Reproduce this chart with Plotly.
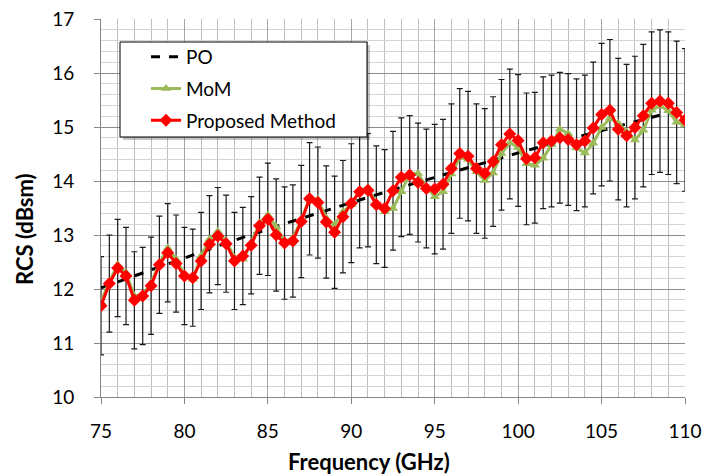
import plotly.graph_objects as go

freq = [75 + 0.5 * i for i in range(71)]

proposed = [11.69, 12.10, 12.39, 12.24, 11.79, 11.87, 12.06, 12.45, 12.67, 12.47,
            12.24, 12.21, 12.52, 12.83, 12.98, 12.84, 12.52, 12.61, 12.81, 13.17,
            13.29, 13.00, 12.85, 12.89, 13.25, 13.67, 13.60, 13.24, 13.05, 13.34,
            13.59, 13.80, 13.83, 13.56, 13.49, 13.82, 14.07, 14.11, 13.97, 13.86,
            13.85, 13.94, 14.23, 14.51, 14.46, 14.23, 14.14, 14.36, 14.67, 14.87,
            14.75, 14.41, 14.43, 14.71, 14.74, 14.80, 14.77, 14.67, 14.74, 14.98,
            15.23, 15.31, 14.96, 14.84, 14.99, 15.21, 15.44, 15.48, 15.44, 15.27,
            15.13]

mom = [11.76, 12.14, 12.45, 12.30, 11.87, 11.90, 12.11, 12.48, 12.76, 12.55,
       12.27, 12.18, 12.61, 12.92, 13.07, 12.89, 12.58, 12.55, 12.85, 13.22,
       13.37, 13.15, 12.88, 12.94, 13.28, 13.68, 13.66, 13.31, 13.19, 13.43,
       13.56, 13.83, 13.88, 13.59, 13.43, 13.49, 13.80, 14.14, 14.14, 13.89,
       13.71, 13.80, 14.13, 14.44, 14.40, 14.17, 14.01, 14.15, 14.51, 14.71,
       14.62, 14.32, 14.29, 14.42, 14.67, 14.96, 14.88, 14.61, 14.52, 14.70,
       14.99, 15.16, 15.07, 14.91, 14.76, 14.94, 15.31, 15.39, 15.30, 15.09,
       15.04]

err = [0.91, 0.90, 0.90, 0.90, 0.90, 0.90, 0.90, 0.90, 0.91, 0.90,
       0.90, 0.90, 0.90, 0.90, 0.90, 0.90, 0.90, 0.90, 0.90, 0.90,
       1.04, 1.04, 1.04, 1.04, 1.04, 1.04, 1.03, 1.04, 1.04, 1.04,
       1.10, 1.04, 1.05, 1.09, 1.09, 1.10, 1.10, 1.10, 1.10, 1.10,
       1.20, 1.20, 1.20, 1.20, 1.20, 1.20, 1.20, 1.20, 1.21, 1.20,
       1.22, 1.22, 1.21, 1.22, 1.22, 1.21, 1.22, 1.22, 1.22, 1.22,
       1.32, 1.31, 1.31, 1.32, 1.32, 1.32, 1.32, 1.32, 1.32, 1.32,
       1.32]

po_freq = [75, 77.5, 80, 82.5, 85, 87.5, 90, 92.5, 95, 97.5, 100, 102.5, 105, 107.5, 108.5]
po_vals = [12.02, 12.30, 12.58, 12.85, 13.11, 13.36, 13.60, 13.84, 14.07, 14.30,
           14.52, 14.73, 14.94, 15.14, 15.22]

x_ticks = [75, 80, 85, 90, 95, 100, 105, 110]
y_ticks = [10, 11, 12, 13, 14, 15, 16, 17]

FONT = "Lato"

fig = go.Figure()

# error bars (behind the lines)
fig.add_trace(go.Scatter(
    x=freq, y=proposed, mode="markers",
    marker=dict(size=1, opacity=0, color="red"),
    error_y=dict(type="data", array=err, visible=True, color="#1a1a1a",
                 thickness=1.2, width=3),
    showlegend=False, hoverinfo="skip"))

fig.add_trace(go.Scatter(
    x=po_freq, y=po_vals, mode="lines", name="PO",
    line=dict(color="black", width=3, dash="dash"),
    legendgroup="a"))

fig.add_trace(go.Scatter(
    x=freq, y=mom, mode="lines+markers", name="MoM",
    line=dict(color="#9bbb59", width=3),
    marker=dict(symbol="triangle-up", size=9, color="#9bbb59"),
    legendgroup="b"))

fig.add_trace(go.Scatter(
    x=freq, y=proposed, mode="lines+markers", name="Proposed Method",
    line=dict(color="#ff0000", width=3),
    marker=dict(symbol="diamond", size=10, color="#ff0000"),
    legendgroup="c"))

L, R, T, B = 101, 685, 19, 397
W, H = 702, 475
pw, ph = R - L, B - T


def px(x):
    return (x - L) / pw


def py(y):
    return (B - y) / ph


shapes = [
    dict(type="rect", xref="paper", yref="paper",
         x0=px(123), x1=px(370), y0=py(140), y1=py(45),
         fillcolor="rgba(0,0,0,0.22)", line=dict(width=0), layer="above"),
    dict(type="rect", xref="paper", yref="paper",
         x0=px(120), x1=px(367), y0=py(137), y1=py(42),
         fillcolor="white", line=dict(color="black", width=1), layer="above"),
]

fig.update_layout(
    width=W, height=H,
    margin=dict(l=L, r=W - R, t=T, b=H - B, autoexpand=False),
    paper_bgcolor="white", plot_bgcolor="white",
    font=dict(family=FONT, size=19, color="black"),
    showlegend=True,
    legend=dict(x=px(146), y=py(38), xanchor="left", yanchor="top",
                bgcolor="rgba(0,0,0,0)", borderwidth=0,
                font=dict(family=FONT, size=19, color="black"),
                traceorder="grouped", tracegroupgap=4,
                itemwidth=30),
    shapes=shapes,
    xaxis=dict(range=[75, 110], tickvals=x_ticks, ticktext=[str(v) for v in x_ticks],
               ticks="outside", ticklen=6, tickcolor="#868686",
               showline=True, linecolor="#868686", linewidth=1,
               showgrid=True, gridcolor="#a6a6a6", gridwidth=1,
               minor=dict(dtick=1, tick0=75, showgrid=True, gridcolor="#bfbfbf", gridwidth=1),
               zeroline=False, tickfont=dict(family=FONT, size=19),
               ticklabelstandoff=11, automargin=False),
    yaxis=dict(range=[10, 17], tickvals=y_ticks, ticktext=[str(v) for v in y_ticks],
               ticks="outside", ticklen=6, tickcolor="#868686",
               showline=True, linecolor="#868686", linewidth=1,
               showgrid=True, gridcolor="#8c8c8c", gridwidth=1,
               minor=dict(dtick=0.2, tick0=10, showgrid=True, gridcolor="#d4d4d4", gridwidth=1),
               zeroline=False, tickfont=dict(family=FONT, size=19),
               ticklabelstandoff=16, automargin=False),
    annotations=[
        dict(text="Frequency (GHz)", xref="paper", yref="paper",
             x=px(369), y=py(461), xanchor="center", yanchor="middle",
             showarrow=False, font=dict(family=FONT, size=22, weight="bold")),
        dict(text="RCS (dBsm)", xref="paper", yref="paper",
             x=px(24), y=py(229), xanchor="center", yanchor="middle",
             textangle=-90, showarrow=False,
             font=dict(family=FONT, size=22, weight="bold")),
    ],
)

fig.write_html("out.html", config={"displayModeBar": False},
               post_script="document.body.style.margin='0';document.body.style.overflow='hidden';")
